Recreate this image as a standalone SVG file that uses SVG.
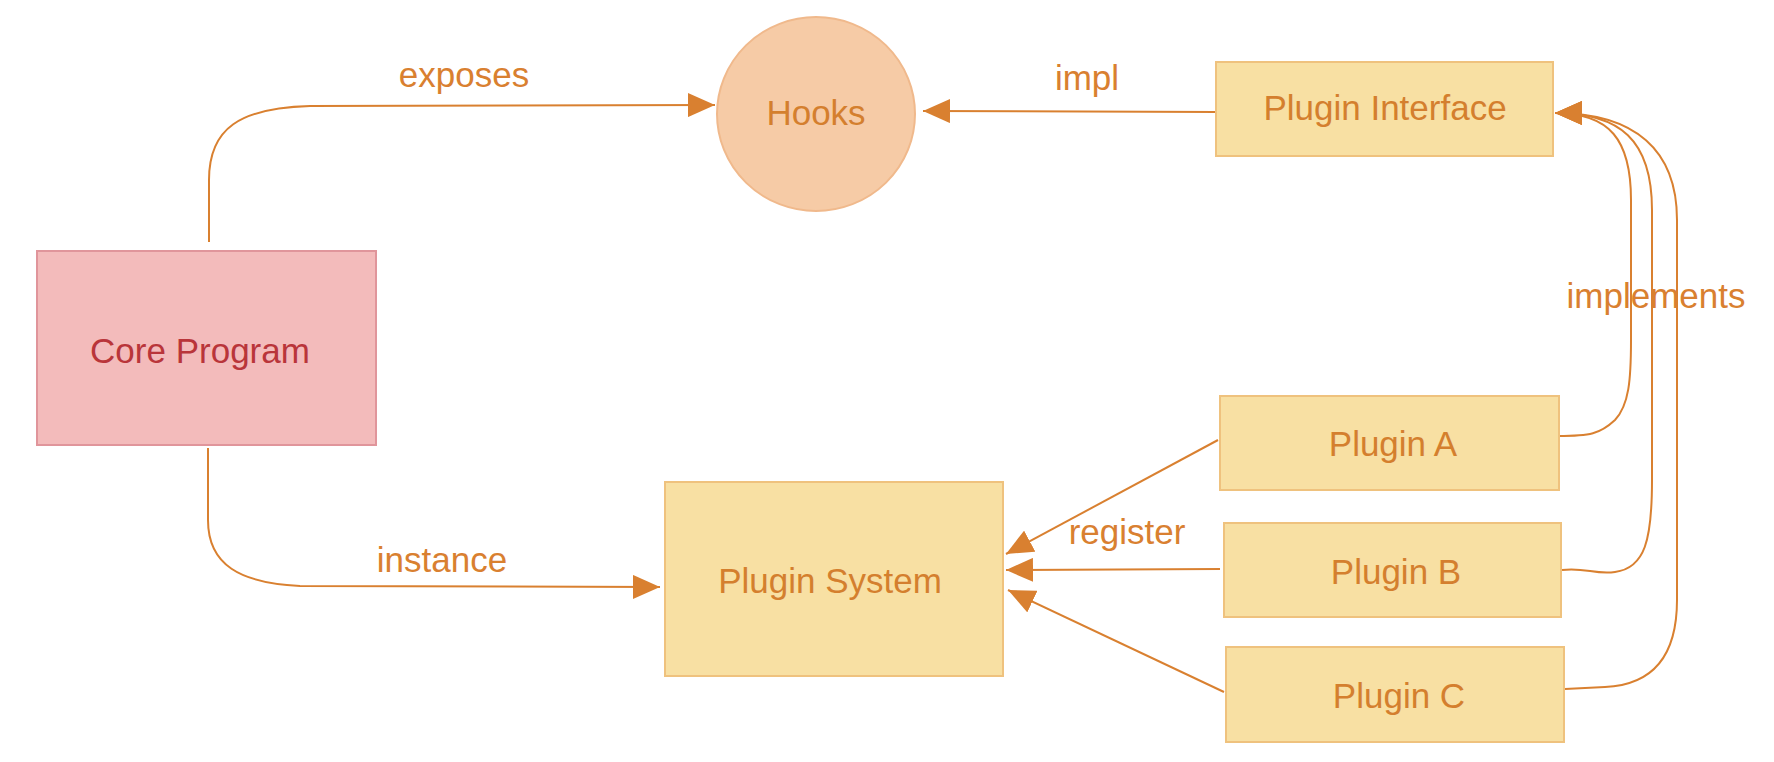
<svg xmlns="http://www.w3.org/2000/svg" width="1774" height="762" viewBox="0 0 1774 762">
<style>
text{font-family:"Liberation Sans",Arial,sans-serif;font-size:35px;text-anchor:middle;fill:#d47f2e}
.box{fill:#f8e0a3;stroke:#efc27e;stroke-width:2}
.core{fill:#f3bbbb;stroke:#e0959b;stroke-width:2}
.hook{fill:#f6cba6;stroke:#f0b98c;stroke-width:2}
.core-t{fill:#b9353a}
.edge{fill:none;stroke:#d98030;stroke-width:2;marker-end:url(#arr)}
.lbl{fill:#d98030}
</style>
<defs>
<marker id="arr" viewBox="0 0 27 24" refX="27" refY="12" markerWidth="27" markerHeight="24" markerUnits="userSpaceOnUse" orient="auto">
<path d="M0,0 L27,12 L0,24 z" fill="#d98030"/>
</marker>
</defs>
<rect width="1774" height="762" fill="#ffffff"/>
<g id="connectors">
<path class="edge" d="M209,242 L209,180 C209,128 240,108 310,106 L715,105"/>
<path class="edge" d="M1216,112 L923,111"/>
<path class="edge" d="M208,448 L208,520 C208,565 240,583 300,586 L660,587"/>
<path class="edge" d="M1218,440 L1006,554"/>
<path class="edge" d="M1220,569 L1006,570"/>
<path class="edge" d="M1224,692 L1008,590"/>
<path class="edge" d="M1558,436 C1590,436 1600,434 1615,420 C1629,405 1631,380 1631,340 L1631,200 C1631,140 1610,113 1555,113"/>
<path class="edge" d="M1562,570 C1585,567 1595,575 1615,572 C1645,568 1652,540 1652,480 L1652,210 C1652,140 1620,113 1555,113"/>
<path class="edge" d="M1565,689 L1605,687 C1650,685 1677,660 1677,600 L1677,220 C1677,150 1635,113 1555,113"/>
<text class="lbl" x="464" y="87">exposes</text>
<text class="lbl" x="1087" y="90">impl</text>
<text class="lbl" x="1656" y="308">implements</text>
<text class="lbl" x="442" y="572">instance</text>
<text class="lbl" x="1127" y="544">register</text>
</g>
<g id="core-program">
<rect class="core" x="37" y="251" width="339" height="194"/>
<text class="core-t" x="200" y="363">Core Program</text>
</g>
<g id="hooks">
<ellipse class="hook" cx="816" cy="114" rx="99" ry="97"/>
<text x="816" y="125">Hooks</text>
</g>
<g id="plugin-interface">
<rect class="box" x="1216" y="62" width="337" height="94"/>
<text x="1385" y="120">Plugin Interface</text>
</g>
<g id="plugin-system">
<rect class="box" x="665" y="482" width="338" height="194"/>
<text x="830" y="593">Plugin System</text>
</g>
<g id="plugin-a">
<rect class="box" x="1220" y="396" width="339" height="94"/>
<text x="1393" y="456">Plugin A</text>
</g>
<g id="plugin-b">
<rect class="box" x="1224" y="523" width="337" height="94"/>
<text x="1396" y="584">Plugin B</text>
</g>
<g id="plugin-c">
<rect class="box" x="1226" y="647" width="338" height="95"/>
<text x="1399" y="708">Plugin C</text>
</g>
</svg>
